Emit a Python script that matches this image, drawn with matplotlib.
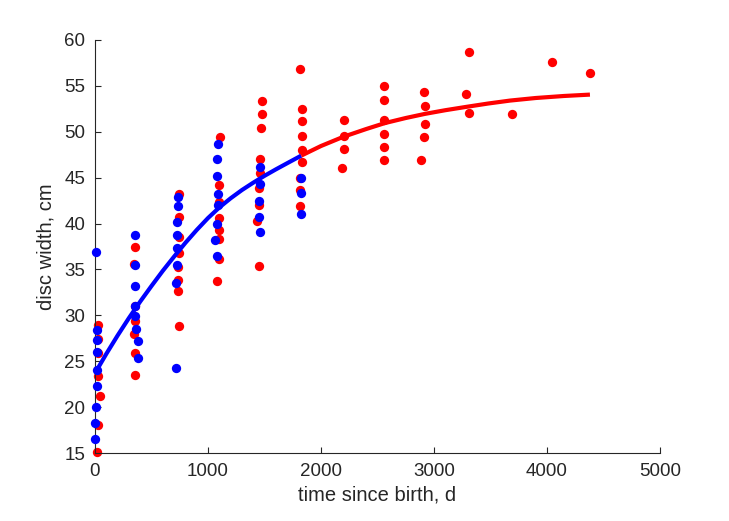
import matplotlib
matplotlib.use("Agg")
import matplotlib.pyplot as plt

plt.rcParams['font.family'] = ['Liberation Sans', 'DejaVu Sans']

# points rouges (temps en jours, largeur en cm)
red_t = [18, 24, 44, 29, 27, 27, 27,
         354, 345, 354, 354, 345, 354, 354,
         743, 743, 743, 743, 737, 737, 737, 743,
         1106, 1097, 1097, 1097, 1097, 1097, 1097, 1082,
         1481, 1481, 1472, 1460, 1460, 1454, 1454, 1431, 1451,
         1814, 1835, 1835, 1835, 1835, 1835, 1814, 1814, 1814,
         2206, 2206, 2201, 2188,
         2560, 2560, 2560, 2555, 2555, 2560,
         2914, 2923, 2923, 2914, 2888,
         3307, 3281, 3307,
         3687, 4041, 4381]
red_w = [15.1, 18.05, 21.2, 23.4, 25.9, 27.4, 28.9,
         37.5, 35.6, 31.0, 29.4, 28.0, 25.9, 23.5,
         43.2, 40.75, 38.5, 36.8, 35.3, 33.9, 32.65, 28.8,
         49.4, 44.2, 42.35, 40.6, 39.3, 38.3, 36.1, 33.7,
         53.4, 51.9, 50.4, 47.0, 45.5, 43.9, 42.0, 40.3, 35.4,
         56.8, 52.45, 51.2, 49.5, 48.0, 46.7, 45.0, 43.65, 41.9,
         51.25, 49.55, 48.1, 46.1,
         55.0, 53.5, 51.3, 49.8, 48.3, 46.9,
         54.3, 52.8, 50.85, 49.4, 46.9,
         58.66, 54.1, 52.1,
         51.95, 57.57, 56.45]

# points bleus
blue_t = [9, 18, 18, 18, 15, 18, 9, 0, 0,
          354, 354, 354, 354, 354, 363, 383, 383,
          737, 737, 723, 723, 723, 723, 714, 717,
          1091, 1082, 1082, 1091, 1091, 1082, 1062, 1082,
          1460, 1460, 1449, 1451, 1460,
          1820, 1820, 1820]
blue_w = [36.9, 28.4, 27.3, 26.0, 24.0, 22.3, 20.0, 18.3, 16.5,
          38.7, 35.5, 33.2, 31.0, 29.9, 28.5, 27.2, 25.3,
          42.9, 41.9, 40.2, 38.7, 37.3, 35.5, 33.5, 24.3,
          48.7, 47.0, 45.2, 43.2, 42.05, 39.95, 38.2, 36.5,
          46.2, 44.3, 42.5, 40.75, 39.05,
          45.0, 43.3, 41.05]

# courbes
blue_curve_t = [0, 100, 200, 300, 400, 500, 600, 700, 800, 900, 1000,
                1100, 1200, 1300, 1400, 1500, 1600, 1700, 1825]
blue_curve_w = [23.7, 25.8, 27.8, 29.7, 31.5, 33.2, 34.85, 36.4, 37.9, 39.3, 40.6,
                41.75, 42.75, 43.65, 44.45, 45.2, 45.9, 46.57, 47.4]
red_curve_t = [1825, 2000, 2197, 2400, 2566, 2750, 2920, 3100, 3289, 3480,
               3673, 3900, 4150, 4380]
red_curve_w = [47.4, 48.45, 49.45, 50.3, 50.95, 51.5, 51.95, 52.35, 52.72, 53.08,
               53.4, 53.68, 53.9, 54.05]

fig = plt.figure(figsize=(7.29, 5.21), dpi=100)
ax = fig.add_axes([95 / 729, 68 / 521, 565 / 729, 413 / 521])

ax.scatter(red_t, red_w, s=45, color=(1, 0, 0), linewidths=0, zorder=2, clip_on=False)
ax.scatter(blue_t, blue_w, s=45, color=(0, 0, 1), linewidths=0, zorder=3, clip_on=False)
ax.plot(blue_curve_t, blue_curve_w, color=(0, 0, 1), lw=3, zorder=4,
        solid_capstyle='butt', solid_joinstyle='round')
ax.plot(red_curve_t, red_curve_w, color=(1, 0, 0), lw=3, zorder=4,
        solid_capstyle='butt', solid_joinstyle='round')

ax.set_xlim(0, 5000)
ax.set_ylim(15, 60)
ax.set_xticks(range(0, 5001, 1000))
ax.set_yticks(range(15, 61, 5))

dark = '#262626'
for side in ['top', 'right']:
    ax.spines[side].set_visible(False)
for side in ['left', 'bottom']:
    ax.spines[side].set_color(dark)
    ax.spines[side].set_linewidth(0.8)
ax.tick_params(direction='in', length=4, width=0.8, colors=dark,
               labelsize=13.5, pad=7)

ax.set_xlabel('time since birth, d', fontsize=14.5, color=dark, labelpad=4)
ax.set_ylabel('disc width, cm', fontsize=14.5, color=dark, labelpad=6)

fig.savefig('out.png', dpi=100)
